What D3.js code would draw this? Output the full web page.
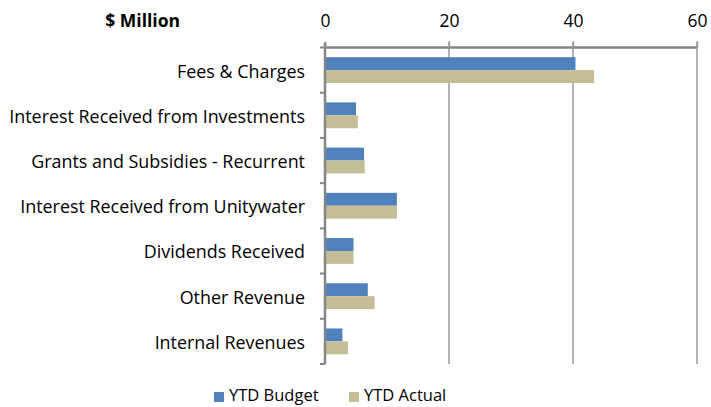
<!DOCTYPE html>
<html>
<head>
<meta charset="utf-8">
<script src="https://cdn.jsdelivr.net/npm/d3@7"></script>
<style>
  body { margin: 0; background: #fff; }
  text { font-family: 'Open Sans', sans-serif; fill: #000; }
</style>
</head>
<body>
<div id="chart"></div>
<script>
let categories = [
  'Fees & Charges',
  'Interest Received from Investments',
  'Grants and Subsidies - Recurrent',
  'Interest Received from Unitywater',
  'Dividends Received',
  'Other Revenue',
  'Internal Revenues'
]
let ytdBudget = [40.4, 5.0, 6.3, 11.6, 4.6, 6.9, 2.8]
let ytdActual = [43.4, 5.3, 6.4, 11.6, 4.6, 8.0, 3.7]
let seriesNames = ['YTD Budget', 'YTD Actual']
let seriesColors = ['#4f81bd', '#c4bd97']
let xTicks = [0, 20, 40, 60]

let width = 711
let height = 407
let margin = { top: 47.5, left: 325, right: 14, bottom: 43 }

let svg = d3
  .select('#chart')
  .append('svg')
  .attr('width', width)
  .attr('height', height)

let x = d3.scaleLinear().domain([0, 60]).range([margin.left, width - margin.right])
let y = d3.scaleBand().domain(categories).range([margin.top, height - margin.bottom])
let ySub = d3.scaleBand().domain(seriesNames).range([0, y.bandwidth()]).paddingOuter(0.75)

let rows = categories.map((c, i) => ({ cat: c, values: [ytdBudget[i], ytdActual[i]] }))

// gridlines
svg
  .append('g')
  .selectAll('line')
  .data(xTicks.slice(1))
  .enter()
  .append('line')
  .attr('x1', d => x(d))
  .attr('x2', d => x(d))
  .attr('y1', margin.top - 6)
  .attr('y2', height - margin.bottom)
  .attr('stroke', '#9a9a9a')
  .attr('stroke-width', 1.5)

// bars
let groups = svg
  .append('g')
  .selectAll('g')
  .data(rows)
  .enter()
  .append('g')
  .attr('transform', d => 'translate(0,' + y(d.cat) + ')')

groups
  .selectAll('rect')
  .data(d => d.values.map((v, i) => ({ name: seriesNames[i], v: v, i: i })))
  .enter()
  .append('rect')
  .attr('x', x(0))
  .attr('y', d => ySub(d.name))
  .attr('width', d => x(d.v) - x(0))
  .attr('height', ySub.bandwidth())
  .attr('fill', d => seriesColors[d.i])

// top axis
let xAxis = d3.axisTop(x).tickValues(xTicks).tickSize(6).tickPadding(6)
let gx = svg
  .append('g')
  .attr('transform', 'translate(0,' + margin.top + ')')
  .call(xAxis)
gx.select('.domain').attr('stroke', '#868686').attr('stroke-width', 2.5)
  .attr('d', 'M' + x(0) + ',0H' + x(60))
gx.selectAll('.tick line').attr('stroke', '#9a9a9a').attr('stroke-width', 1.5)
gx.selectAll('.tick text')
  .attr('font-size', 17.5)
  .attr('font-family', "'Open Sans', sans-serif")
  .attr('fill', '#000')
  .attr('dy', null)
  .attr('y', -20.5)

// left axis
svg
  .append('line')
  .attr('x1', x(0))
  .attr('x2', x(0))
  .attr('y1', margin.top - 5)
  .attr('y2', height - margin.bottom)
  .attr('stroke', '#868686')
  .attr('stroke-width', 2.5)

svg
  .append('g')
  .selectAll('line')
  .data(categories.map(c => y(c)).concat([height - margin.bottom]))
  .enter()
  .append('line')
  .attr('x1', x(0) - 5)
  .attr('x2', x(0))
  .attr('y1', d => d)
  .attr('y2', d => d)
  .attr('stroke', '#868686')
  .attr('stroke-width', 2)

svg
  .append('g')
  .selectAll('text')
  .data(categories)
  .enter()
  .append('text')
  .attr('x', 305)
  .attr('y', d => y(d) + y.bandwidth() / 2 + 7.5)
  .attr('text-anchor', 'end')
  .attr('font-size', 17.9)
  .text(d => d)

svg
  .append('text')
  .attr('x', 180)
  .attr('y', 27)
  .attr('text-anchor', 'end')
  .attr('font-size', 17.5)
  .attr('font-weight', 'bold')
  .text('$ Million')

// legend
let legendX = [214, 349]
let legend = svg
  .append('g')
  .selectAll('g')
  .data(seriesNames)
  .enter()
  .append('g')
  .attr('transform', (d, i) => 'translate(' + legendX[i] + ',' + 392 + ')')

legend
  .append('rect')
  .attr('width', 10)
  .attr('height', 10)
  .attr('fill', (d, i) => seriesColors[i])

legend
  .append('text')
  .attr('x', 15)
  .attr('y', 9)
  .attr('font-size', 16.5)
  .text(d => d)
</script>
</body>
</html>
